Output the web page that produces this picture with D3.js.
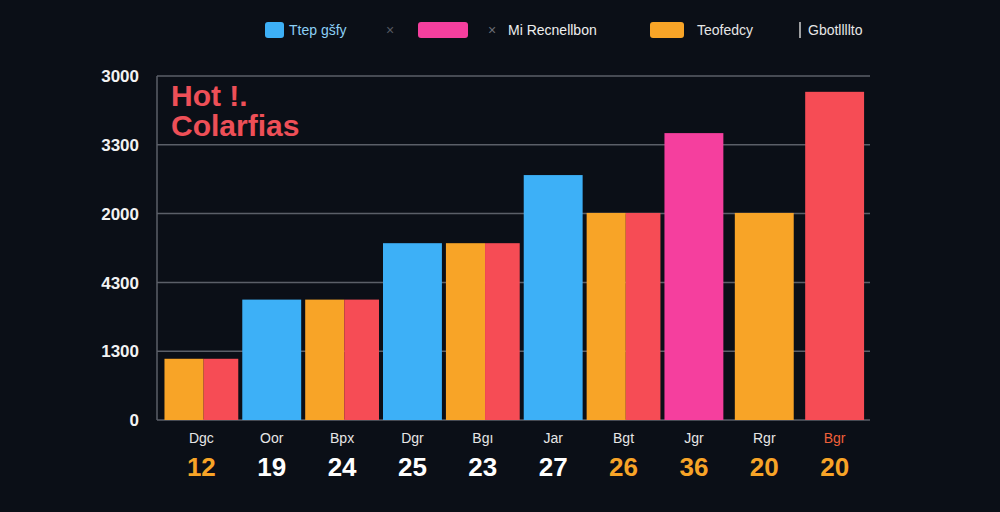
<!DOCTYPE html>
<html>
<head>
<meta charset="utf-8">
<script src="https://cdn.jsdelivr.net/npm/d3@7"></script>
<style>
  html, body { margin: 0; padding: 0; background: #0b0f17; }
  svg { display: block; }
</style>
</head>
<body>
<div id="chart"></div>
<script>
// chart data
var categories = ["Dgc", "Oor", "Bpx", "Dgr", "Bgı", "Jar", "Bgt", "Jgr", "Rgr", "Bgr"];
var counts = [12, 19, 24, 25, 23, 27, 26, 36, 20, 20];
var countHighlight = [true, false, false, false, false, false, true, true, true, true];
var barValues = [890, 1750, 1750, 2570, 2570, 3560, 3010, 4170, 3010, 4770];
var barKinds = ["split", "blue", "split", "blue", "split", "blue", "split", "pink", "orange", "red"];
var yTickValues = [0, 1000, 2000, 3000, 4000, 5000];
var yTickLabels = ["0", "1300", "4300", "2000", "3300", "3000"];
var legendNames = ["Ttep gšfy", "Mi Recnellbon", "Teofedcy", "Gbotllllto"];
var titleLines = ["Hot !.", "Colarfias"];

var colors = {blue: "#3db0f7", orange: "#f8a427", red: "#f64c55", pink: "#f53f9e"};

var width = 1000, height = 512;
var svg = d3.select("#chart").append("svg")
    .attr("width", width)
    .attr("height", height)
    .style("font-family", "'Liberation Sans', Arial, sans-serif");

svg.append("rect").attr("width", width).attr("height", height).attr("fill", "#0b0f17");

var x = d3.scaleBand()
    .domain(categories)
    .range([169, 867])
    .paddingInner(0.08)
    .paddingOuter(0);

var y = d3.scaleLinear()
    .domain([0, 5000])
    .range([420, 76]);

// grid
svg.append("g")
  .selectAll("line")
  .data(yTickValues)
  .enter().append("line")
    .attr("x1", 157)
    .attr("x2", 870)
    .attr("y1", function(d) { return y(d); })
    .attr("y2", function(d) { return y(d); })
    .attr("stroke", "#5b5f68")
    .attr("stroke-width", 1.5);

svg.append("line")
    .attr("x1", 157).attr("x2", 157)
    .attr("y1", y(5000)).attr("y2", y(0))
    .attr("stroke", "#5b5f68")
    .attr("stroke-width", 1.5);

// y labels
svg.append("g")
  .selectAll("text")
  .data(yTickValues)
  .enter().append("text")
    .attr("x", 139)
    .attr("y", function(d) { return y(d); })
    .attr("dy", "0.36em")
    .attr("text-anchor", "end")
    .attr("fill", "#f2f2f2")
    .attr("font-size", 17)
    .attr("font-weight", "bold")
    .text(function(d, i) { return yTickLabels[i]; });

// bars
var bars = svg.append("g");
categories.forEach(function(c, i) {
  var kind = barKinds[i];
  var cx = x(c) + x.bandwidth() / 2;
  var w = kind == "split" ? x.bandwidth() * 1.14 : x.bandwidth() * 0.91;
  var top = y(barValues[i]);
  if (kind == "split") {
    bars.append("rect")
      .attr("x", cx - w / 2).attr("y", top)
      .attr("width", w * 0.53).attr("height", y(0) - top)
      .attr("fill", colors.orange);
    bars.append("rect")
      .attr("x", cx - w / 2 + w * 0.53).attr("y", top)
      .attr("width", w * 0.47).attr("height", y(0) - top)
      .attr("fill", colors.red);
  } else {
    bars.append("rect")
      .attr("x", cx - w / 2).attr("y", top)
      .attr("width", w).attr("height", y(0) - top)
      .attr("fill", colors[kind]);
  }
});

// x labels
svg.append("g")
  .selectAll("text")
  .data(categories)
  .enter().append("text")
    .attr("x", function(d) { return x(d) + x.bandwidth() / 2; })
    .attr("y", 443)
    .attr("text-anchor", "middle")
    .attr("font-size", 14)
    .attr("fill", function(d, i) { return i == categories.length - 1 ? "#f0603a" : "#e6e6e6"; })
    .text(function(d) { return d; });

svg.append("g")
  .selectAll("text")
  .data(counts)
  .enter().append("text")
    .attr("x", function(d, i) { return x(categories[i]) + x.bandwidth() / 2; })
    .attr("y", 476)
    .attr("text-anchor", "middle")
    .attr("font-size", 26)
    .attr("font-weight", "bold")
    .attr("fill", function(d, i) { return countHighlight[i] ? "#f8a427" : "#ffffff"; })
    .text(function(d) { return d; });

// title (one text, two lines)
var title = svg.append("text")
    .attr("x", 171)
    .attr("y", 106)
    .attr("fill", "#ee4f57")
    .attr("font-size", 30)
    .attr("font-weight", "bold");
title.selectAll("tspan")
  .data(titleLines)
  .enter().append("tspan")
    .attr("x", 171)
    .attr("dy", function(d, i) { return i == 0 ? 0 : 30; })
    .text(function(d) { return d; });

// legend
var legend = svg.append("g").attr("font-size", 14);
legend.append("rect").attr("x", 265).attr("y", 22).attr("width", 19).attr("height", 16).attr("rx", 3).attr("fill", colors.blue);
legend.append("text").attr("x", 289).attr("y", 35).attr("fill", "#8ccff5").text(legendNames[0]);
legend.append("text").attr("x", 386).attr("y", 35).attr("fill", "#555a62").text("×");
legend.append("rect").attr("x", 418).attr("y", 22).attr("width", 50).attr("height", 16).attr("rx", 3).attr("fill", colors.pink);
legend.append("text").attr("x", 488).attr("y", 35).attr("fill", "#6a6e75").text("×");
legend.append("text").attr("x", 508).attr("y", 35).attr("fill", "#eeeeee").text(legendNames[1]);
legend.append("rect").attr("x", 650).attr("y", 22).attr("width", 34).attr("height", 16).attr("rx", 3).attr("fill", colors.orange);
legend.append("text").attr("x", 697).attr("y", 35).attr("fill", "#e6e6e6").text(legendNames[2]);
legend.append("line").attr("x1", 800).attr("x2", 800).attr("y1", 22).attr("y2", 38).attr("stroke", "#cfcfcf").attr("stroke-width", 1.5);
legend.append("text").attr("x", 808).attr("y", 35).attr("fill", "#e6e6e6").text(legendNames[3]);
</script>
</body>
</html>
